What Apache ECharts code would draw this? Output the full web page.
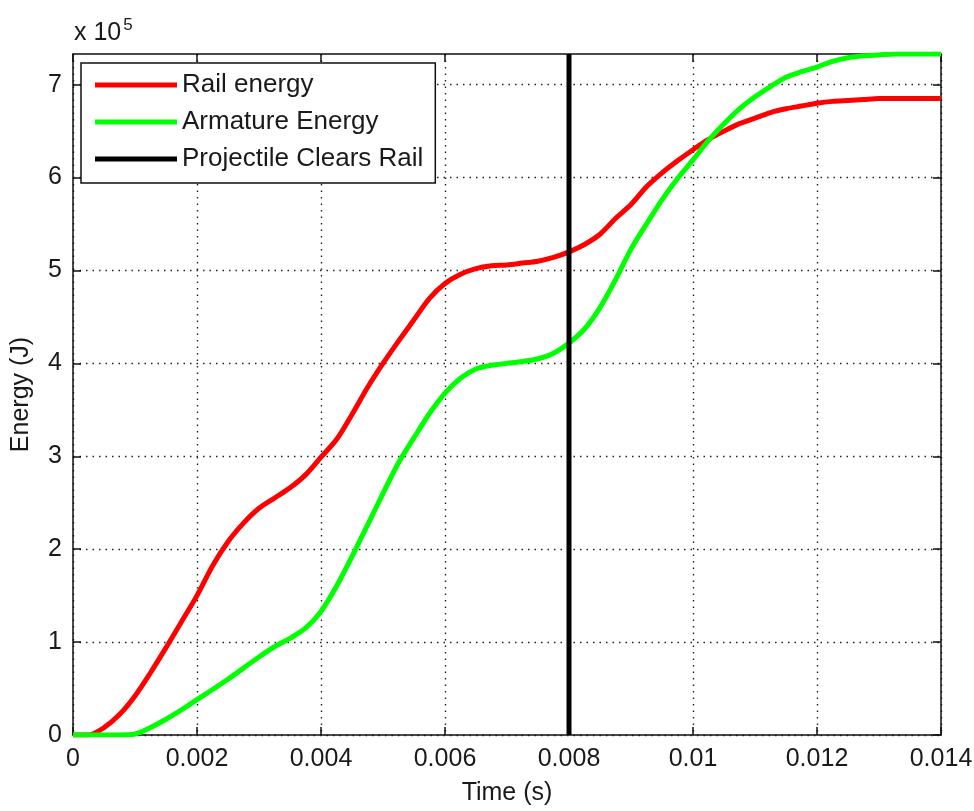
<!DOCTYPE html>
<html>
<head>
<meta charset="utf-8">
<script src="https://cdn.jsdelivr.net/npm/echarts@6/dist/echarts.min.js"></script>
<style>html,body{margin:0;padding:0;background:#fff}#c{width:974px;height:811px}</style>
</head>
<body>
<div id="c"></div>
<script>
// Time samples (s), every 0.25 ms
const timeS = [0, 0.00025, 0.0005, 0.00075, 0.001, 0.00125, 0.0015, 0.00175, 0.002, 0.00225, 0.0025, 0.00275, 0.003, 0.00325, 0.0035, 0.00375, 0.004, 0.00425, 0.0045, 0.00475, 0.005, 0.00525, 0.0055, 0.00575, 0.006, 0.00625, 0.0065, 0.00675, 0.007, 0.00725, 0.0075, 0.00775, 0.008, 0.00825, 0.0085, 0.00875, 0.009, 0.00925, 0.0095, 0.00975, 0.01, 0.01025, 0.0105, 0.01075, 0.011, 0.01125, 0.0115, 0.01175, 0.012, 0.01225, 0.0125, 0.01275, 0.013, 0.01325, 0.0135, 0.01375, 0.014];
// Energies in units of 1e5 J
const railEnergy = [0, 0.0, 0.08, 0.22, 0.42, 0.67, 0.94, 1.22, 1.5, 1.82, 2.08, 2.28, 2.44, 2.55, 2.66, 2.8, 2.99, 3.18, 3.45, 3.74, 4.0, 4.24, 4.47, 4.7, 4.86, 4.96, 5.02, 5.05, 5.06, 5.08, 5.1, 5.14, 5.2, 5.28, 5.39, 5.56, 5.71, 5.9, 6.05, 6.18, 6.3, 6.41, 6.5, 6.58, 6.64, 6.7, 6.74, 6.77, 6.8, 6.82, 6.83, 6.84, 6.85, 6.85, 6.85, 6.85, 6.85];
const armatureEnergy = [0, 0, 0, 0, 0.01, 0.08, 0.17, 0.27, 0.38, 0.49, 0.6, 0.72, 0.84, 0.95, 1.04, 1.15, 1.33, 1.6, 1.92, 2.26, 2.6, 2.93, 3.2, 3.46, 3.68, 3.84, 3.94, 3.98, 4.0, 4.02, 4.05, 4.11, 4.22, 4.37, 4.6, 4.9, 5.23, 5.5, 5.76, 5.99, 6.19, 6.4, 6.58, 6.74, 6.87, 6.98, 7.08, 7.14, 7.19, 7.25, 7.29, 7.31, 7.32, 7.33, 7.33, 7.33, 7.33];
const clearTime = 0.008;
const xTicks = [0, 0.002, 0.004, 0.006, 0.008, 0.01, 0.012, 0.014];
const yTicks = [0, 1, 2, 3, 4, 5, 6, 7];
const yMax = 7.33;
const seriesNames = ['Rail energy', 'Armature Energy', 'Projectile Clears Rail'];

const FONT = 'Liberation Sans, Arial, sans-serif';
const TXT = '#1a1a1a';
const chart = echarts.init(document.getElementById('c'), null, {renderer: 'canvas'});

const gridStyle = {show: true, lineStyle: {color: '#222', width: 1.4, type: [1.5, 5]}};
const axLine = {show: true, onZero: false, lineStyle: {color: '#111', width: 1.5}};
const axTick = {show: true, inside: true, length: 8, lineStyle: {color: '#111', width: 1.5}};

function fmtX(v) { return String(parseFloat(v.toFixed(6))); }

chart.setOption({
  animation: false,
  backgroundColor: '#fff',
  grid: {left: 73, right: 33, top: 54, bottom: 76, containLabel: false, outerBoundsMode: 'none'},
  graphic: [{
    type: 'text', left: 74, top: 17,
    style: {
      rich: {a: {fontSize: 25, fontFamily: FONT, fill: TXT}, b: {fontSize: 17, fontFamily: FONT, fill: TXT, padding: [0, 0, 16, 2]}},
      text: '{a|x 10}{b|5}'
    }
  }],
  legend: {
    orient: 'vertical', left: 81, top: 63,
    backgroundColor: '#fff', borderColor: '#111', borderWidth: 1.5,
    padding: [9, 12, 11, 14],
    itemGap: 11, itemWidth: 82, itemHeight: 5, icon: 'rect',
    textStyle: {fontSize: 26, fontFamily: FONT, color: TXT, lineHeight: 26},
    data: seriesNames
  },
  xAxis: [{
    type: 'value', position: 'bottom', min: 0, max: 0.014, interval: 0.002,
    axisLine: axLine, axisTick: axTick, splitLine: gridStyle,
    axisLabel: {fontSize: 25, fontFamily: FONT, color: TXT, margin: 12, formatter: fmtX,
      customValues: xTicks},
    name: 'Time (s)', nameLocation: 'middle', nameGap: 46,
    nameTextStyle: {fontSize: 25, fontFamily: FONT, color: TXT}
  }, {
    type: 'value', position: 'top', min: 0, max: 0.014, interval: 0.002,
    axisLine: axLine, axisTick: axTick, axisLabel: {show: false}, splitLine: {show: false}
  }],
  yAxis: [{
    type: 'value', position: 'left', min: 0, max: yMax, interval: 1,
    axisLine: axLine, axisTick: Object.assign({}, axTick, {customValues: yTicks}), splitLine: gridStyle,
    axisLabel: {fontSize: 25, fontFamily: FONT, color: TXT, margin: 11, customValues: yTicks},
    name: 'Energy (J)', nameLocation: 'middle', nameGap: 39,
    nameTextStyle: {fontSize: 25, fontFamily: FONT, color: TXT}
  }, {
    type: 'value', position: 'right', min: 0, max: yMax, interval: 1,
    axisLine: axLine, axisTick: Object.assign({}, axTick, {customValues: yTicks}),
    axisLabel: {show: false}, splitLine: {show: false}
  }],
  series: [{
    name: seriesNames[0], type: 'line', smooth: 0.3, showSymbol: false,
    itemStyle: {color: '#ff0000'}, lineStyle: {color: '#ff0000', width: 5},
    data: timeS.map((t, i) => [t, railEnergy[i]])
  }, {
    name: seriesNames[1], type: 'line', smooth: 0.3, showSymbol: false,
    itemStyle: {color: '#00ff00'}, lineStyle: {color: '#00ff00', width: 5},
    data: timeS.map((t, i) => [t, armatureEnergy[i]])
  }, {
    name: seriesNames[2], type: 'line', showSymbol: false,
    itemStyle: {color: '#000'}, lineStyle: {color: '#000', width: 5},
    data: [[clearTime, 0], [clearTime, yMax]]
  }]
});
</script>
</body>
</html>
